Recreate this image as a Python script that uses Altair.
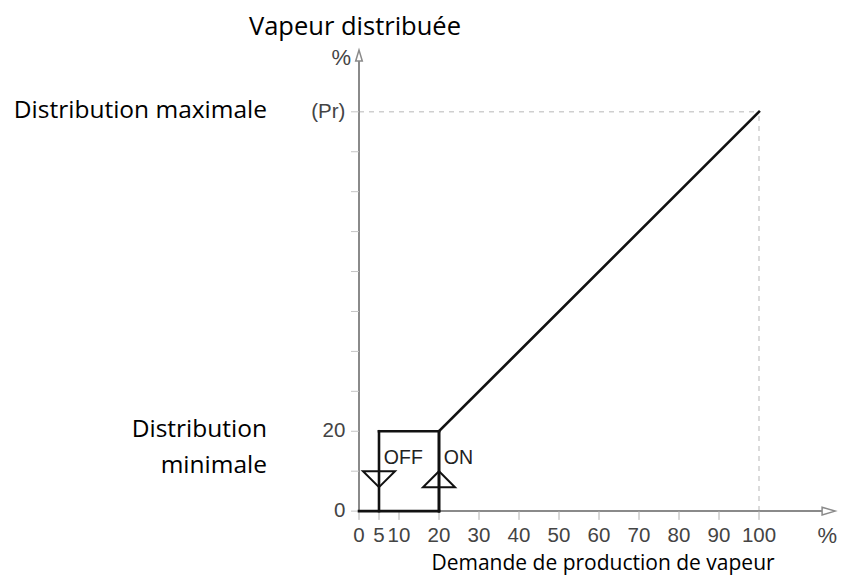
import altair as alt
import pandas as pd

# ---- data ----
pr_level = 100
curve_x1 = [5, 5, 20, 20, 0, 20]
curve_y1 = [0, 20, 20, 0, 0, 20]
curve_x2 = [5, 20, 20, 20, 20, 100]
curve_y2 = [20, 20, 0, 20, 0, 100]

x_ticks = [0, 5, 10, 20, 30, 40, 50, 60, 70, 80, 90, 100]
x_tick_labels = ["0", "5", "10", "20", "30", "40", "50", "60", "70", "80", "90", "100"]
y_ticks = [0, 10, 20, 30, 40, 50, 60, 70, 80, 90, 100]
y_label_vals = [0, 20, 100]
y_label_text = ["0", "20", "(Pr)"]

off_on_x = [5, 20]
off_on_text = ["OFF", "ON"]

XS = alt.Scale(domain=[-87.75, 119.75], nice=False, zero=False)
YS = alt.Scale(domain=[-16, 126], nice=False, zero=False)


def X(f, **kw):
    return alt.X(f, type="quantitative", scale=XS, axis=None, **kw)


def Y(f, **kw):
    return alt.Y(f, type="quantitative", scale=YS, axis=None, **kw)


one = pd.DataFrame({"a": [0]})

# guide dashed lines
guides = pd.DataFrame({"x": [0, pr_level], "y": [pr_level, 0],
                       "x2": [pr_level, pr_level], "y2": [pr_level, pr_level]})
guide_layer = alt.Chart(guides).mark_rule(color="#cfcfcf", strokeWidth=1.5, strokeDash=[5, 5]).encode(
    x=X("x"), y=Y("y"), x2="x2", y2="y2")

# axes
axes = pd.DataFrame({"x": [0, 0], "y": [0, 0], "x2": [115.75, 0], "y2": [0, 112.7]})
axis_layer = alt.Chart(axes).mark_rule(color="#8a8a8a", strokeWidth=2).encode(
    x=X("x"), y=Y("y"), x2="x2", y2="y2")

arrow_r = alt.Chart(one).mark_point(
    shape="M -1 -0.6 L 1 0 L -1 0.6 Z", size=169, filled=False, stroke="#8a8a8a", strokeWidth=1.5, opacity=1
).encode(x=alt.X(datum=117.4, scale=XS, axis=None), y=alt.Y(datum=0, scale=YS, axis=None))
arrow_u = alt.Chart(one).mark_point(
    shape="M -0.6 1 L 0 -1 L 0.6 1 Z", size=121, filled=False, stroke="#8a8a8a", strokeWidth=1.5, opacity=1
).encode(x=alt.X(datum=0, scale=XS, axis=None), y=alt.Y(datum=114.1, scale=YS, axis=None))

# ticks
yt = pd.DataFrame({"y": y_ticks})
ytick_layer = alt.Chart(yt).mark_rule(color="#c4c4c4", strokeWidth=1).encode(
    x=alt.X(datum=-2, scale=XS, axis=None), x2=alt.X2(datum=0), y=Y("y"))
xt = pd.DataFrame({"x": x_ticks, "t": x_tick_labels})
xtick_layer = alt.Chart(xt).mark_rule(color="#b0b0b0", strokeWidth=1).encode(
    x=X("x"), y=alt.Y(datum=0, scale=YS, axis=None), y2=alt.Y2(datum=-2.2))
xlab_layer = alt.Chart(xt).mark_text(font="Liberation Sans", fontSize=20.5, color="#444444",
                                     align="center", baseline="middle").encode(
    x=X("x"), y=alt.Y(datum=-6.3, scale=YS, axis=None), text="t:N")
yl = pd.DataFrame({"y": y_label_vals, "t": y_label_text})
ylab_layer = alt.Chart(yl).mark_text(font="Liberation Sans", fontSize=20.5, color="#444444",
                                     align="right", baseline="middle").encode(
    x=alt.X(datum=-3.4, scale=XS, axis=None), y=Y("y"), text="t:N")
pct_y = alt.Chart(one).mark_text(font="Liberation Sans", fontSize=22, color="#444444",
                                 align="right", baseline="middle", text="%").encode(
    x=alt.X(datum=-2.0, scale=XS, axis=None), y=alt.Y(datum=113.6, scale=YS, axis=None))
pct_x = alt.Chart(one).mark_text(font="Liberation Sans", fontSize=22, color="#444444",
                                 align="right", baseline="middle", text="%").encode(
    x=alt.X(datum=119.5, scale=XS, axis=None), y=alt.Y(datum=-6.3, scale=YS, axis=None))

# curve
curve = pd.DataFrame({"x": curve_x1, "y": curve_y1, "x2": curve_x2, "y2": curve_y2})
curve_layer = alt.Chart(curve).mark_rule(color="#111111", strokeWidth=2.6, strokeCap="square").encode(
    x=X("x"), y=Y("y"), x2="x2", y2="y2")

tri_down = alt.Chart(one).mark_point(
    shape="M -1 -0.5 L 1 -0.5 L 0 0.5 Z", size=1024, filled=False, stroke="#111111", strokeWidth=2, opacity=1
).encode(x=alt.X(datum=off_on_x[0], scale=XS, axis=None), y=alt.Y(datum=8, scale=YS, axis=None))
tri_up = alt.Chart(one).mark_point(
    shape="M -1 0.5 L 1 0.5 L 0 -0.5 Z", size=1024, filled=False, stroke="#111111", strokeWidth=2, opacity=1
).encode(x=alt.X(datum=off_on_x[1], scale=XS, axis=None), y=alt.Y(datum=8, scale=YS, axis=None))

oo = pd.DataFrame({"x": [v + 1.2 for v in off_on_x], "t": off_on_text})
oo_layer = alt.Chart(oo).mark_text(font="Liberation Sans", fontSize=19.5, color="#222222",
                                   align="left", baseline="alphabetic").encode(
    x=X("x"), y=alt.Y(datum=11.8, scale=YS, axis=None), text="t:N")


# annotations
def ann(text, x, y, align, size):
    return alt.Chart(one).mark_text(font="Open Sans", fontSize=size, color="#000000",
                                    align=align, baseline="alphabetic", text=text).encode(
        x=alt.X(datum=x, scale=XS, axis=None), y=alt.Y(datum=y, scale=YS, axis=None))


t_top = ann("Vapeur distribuée", -1, 119.2, "center", 25.5)
t_max = ann("Distribution maximale", -23, 98.4, "right", 24.5)
t_min1 = ann("Distribution", -23, 18.5, "right", 24.5)
t_min2 = ann("minimale", -23, 9.5, "right", 24.5)
t_bot = ann("Demande de production de vapeur", 61, -14.8, "center", 21)

chart = alt.layer(
    guide_layer, axis_layer, arrow_r, arrow_u, ytick_layer, xtick_layer, xlab_layer, ylab_layer,
    pct_y, pct_x, curve_layer, tri_down, tri_up, oo_layer, t_top, t_max, t_min1, t_min2, t_bot
).properties(
    width=830, height=567, padding=0, background="white",
    autosize=alt.AutoSizeParams(type="none")
).configure_view(stroke=None)

chart.save("out.html", embed_options={"renderer": "svg", "actions": False})
